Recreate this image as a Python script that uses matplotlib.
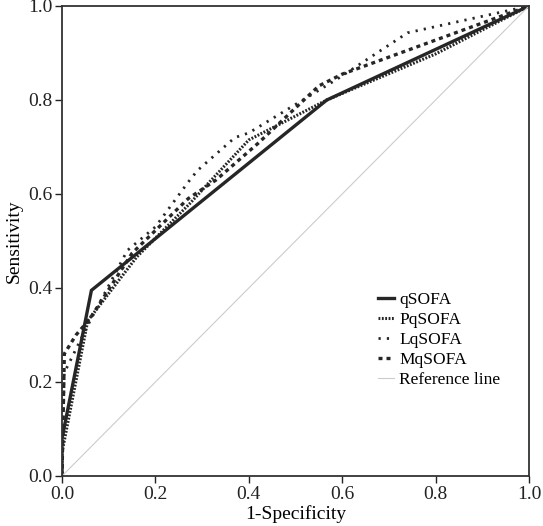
import matplotlib
matplotlib.use("Agg")
import matplotlib.pyplot as plt

plt.rcParams['font.family'] = ['Liberation Serif', 'DejaVu Serif']

q_x = [0, 0, 0.063, 0.567, 1.0]
q_y = [0, 0.08, 0.395, 0.80, 1.0]

p_x = [0, 0, 0.055, 0.16, 0.274, 0.32, 0.40, 0.567, 0.80, 1.0]
p_y = [0, 0.05, 0.33, 0.466, 0.58, 0.63, 0.715, 0.80, 0.898, 1.0]

l_x = [0, 0.005, 0.06, 0.14, 0.20, 0.27, 0.29, 0.37, 0.40, 0.59, 0.74, 1.0]
l_y = [0, 0.22, 0.33, 0.48, 0.53, 0.625, 0.65, 0.72, 0.73, 0.845, 0.943, 1.0]

m_x = [0, 0.005, 0.03, 0.06, 0.15, 0.27, 0.33, 0.42, 0.55, 0.60, 1.0]
m_y = [0, 0.26, 0.30, 0.335, 0.474, 0.59, 0.63, 0.708, 0.83, 0.855, 1.0]

ref = [0, 1]

ticks = [0.0, 0.2, 0.4, 0.6, 0.8, 1.0]

fig = plt.figure(figsize=(5.43, 5.26), dpi=100)
ax = fig.add_axes([62/543, 50/526, 467/543, 470/526])

col = '#262626'
ax.plot(q_x, q_y, color=col, lw=2.4, ls='-', label='qSOFA', solid_joinstyle='miter')
ax.plot(p_x, p_y, color=col, lw=2.2, ls=(0, (0.6, 0.5)), label='PqSOFA')
ax.plot(l_x, l_y, color=col, lw=2.0, ls=(0, (0.8, 2.2)), label='LqSOFA')
ax.plot(m_x, m_y, color=col, lw=2.4, ls=(0, (1.2, 1.2)), label='MqSOFA')
ax.plot(ref, ref, color='#cccccc', lw=0.8, label='Reference line')

ax.set_xlim(0, 1)
ax.set_ylim(0, 1)
ax.set_xticks(ticks)
ax.set_yticks(ticks)
ax.set_xticklabels([f'{t:.1f}' for t in ticks])
ax.set_yticklabels([f'{t:.1f}' for t in ticks])
ax.tick_params(direction='out', length=5, width=1.0, labelsize=14, colors='#222222', pad=2)
for s in ax.spines.values():
    s.set_linewidth(1.3)
    s.set_color('#333333')

ax.set_xlabel('1-Specificity', fontsize=14, labelpad=2)
ax.set_ylabel('Sensitivity', fontsize=14, labelpad=4)

leg = ax.legend(loc='upper left', bbox_to_anchor=(0.662, 0.407), frameon=False,
                fontsize=12.5, handlelength=0.92, handletextpad=0.29,
                labelspacing=0.22, borderaxespad=0)

fig.savefig('out.png', dpi=100)
